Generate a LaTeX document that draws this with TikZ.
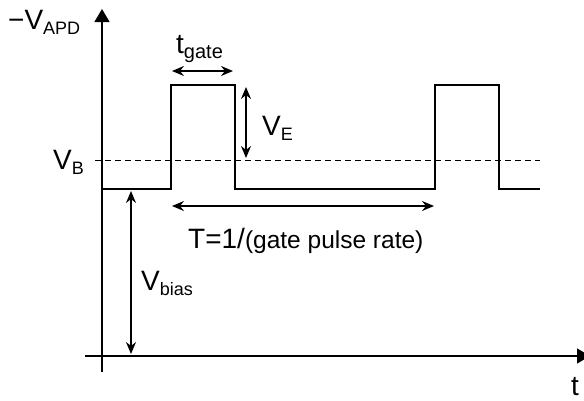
\documentclass[tikz,border=0pt]{standalone}
\usepackage{fontspec}
\setmainfont{Liberation Sans}
\usetikzlibrary{arrows.meta}
\newcommand{\fsz}[1]{\fontsize{#1}{#1}\selectfont}
\begin{document}
\begin{tikzpicture}[x=1pt,y=-1pt,
  axis/.style={line width=1.4pt,-{Triangle[length=13pt,width=15pt]}},
  wave/.style={line width=2.7pt,line join=miter},
  dim/.style={line width=1.4pt,{Stealth[length=12pt,width=10pt,inset=4pt]}-{Stealth[length=12pt,width=10pt,inset=4pt]}},
  lab/.style={inner sep=0pt,anchor=base west},
  refl/.style={line width=1pt,dash pattern=on 6pt off 4pt}]
\useasboundingbox (0,0) rectangle (584,400);
% coordinates
\coordinate (ybot) at (102,372);
\coordinate (ytop) at (102,9);
\coordinate (xl) at (85,356);
\coordinate (xr) at (590,356);
\coordinate (dl) at (95,160);
\coordinate (dr) at (540,160);
% axes
\draw[axis] (ybot) -- (ytop);
\draw[axis] (xl) -- (xr);
% dashed breakdown level
\draw[refl] (dl) -- (dr);
% waveform
\draw[wave] (102,189) -- (171,189) -- (171,85) -- (235,85) -- (235,189)
  -- (435,189) -- (435,85) -- (499,85) -- (499,189) -- (540,189);
% dimension arrows
\coordinate (tg1) at (172,71); \coordinate (tg2) at (233,71);
\coordinate (ve1) at (246,87); \coordinate (ve2) at (246,158);
\coordinate (T1) at (172,206); \coordinate (T2) at (434,206);
\coordinate (vb1) at (131,191); \coordinate (vb2) at (131,354);
\draw[dim] (tg1) -- (tg2);
\draw[dim] (ve1) -- (ve2);
\draw[dim] (T1) -- (T2);
\draw[dim] (vb1) -- (vb2);
% labels
\node[lab] (vapd) at (8,29) {\fsz{28}\textminus V\raisebox{-5pt}{\fsz{18}APD}};
\node[lab] (vbl) at (53,169) {\fsz{28}V\raisebox{-5pt}{\fsz{18}B}};
\node[lab] (tgl) at (176,53) {\fsz{28}t\raisebox{-5pt}{\fsz{20}gate}};
\node[lab] (vel) at (262,135) {\fsz{28}V\raisebox{-5pt}{\fsz{18}E}};
\node[lab] (vbias) at (141,290) {\fsz{28}V\raisebox{-5pt}{\fsz{18}bias}};
\node[lab] (Tl) at (188,248) {\fsz{28}T=1/\fsz{24.5}(gate pulse rate)};
\node[lab] (tl) at (571,395) {\fsz{28}t};
\end{tikzpicture}
\end{document}
